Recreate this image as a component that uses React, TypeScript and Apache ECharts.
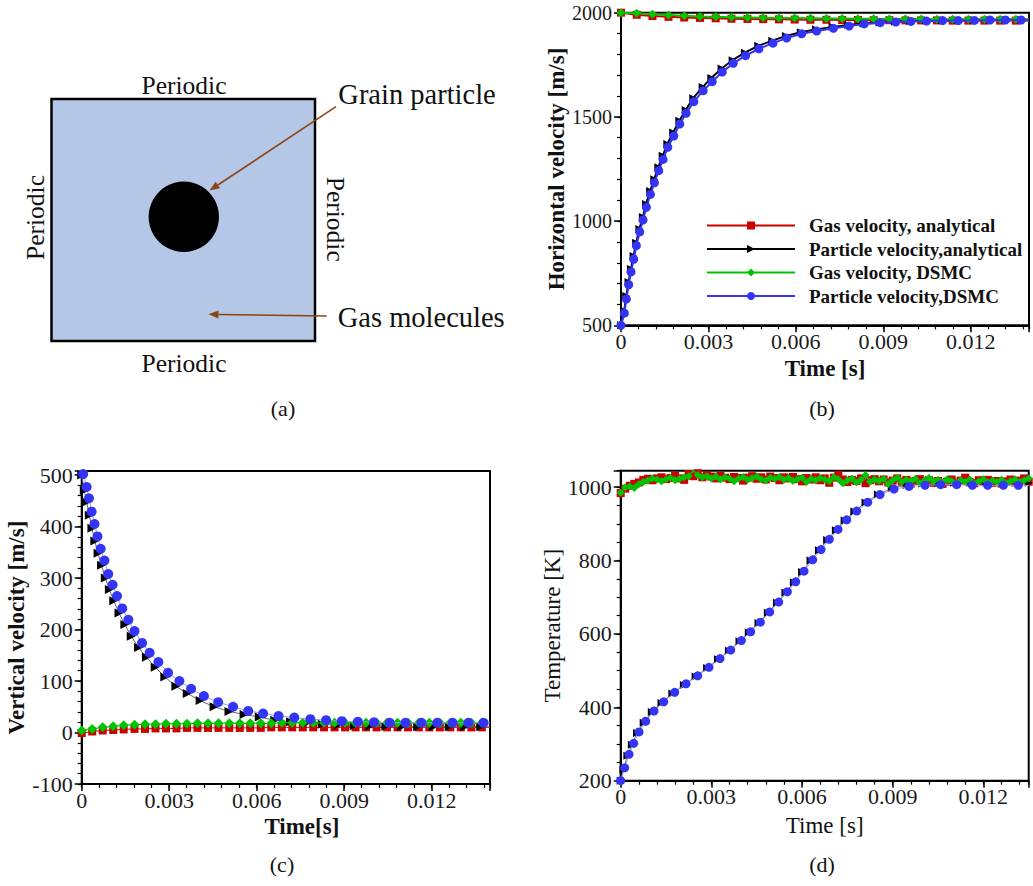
import React, { useEffect, useRef } from 'react';
import * as echarts from 'echarts';

const SERIF = 'Liberation Serif, Times New Roman, Times, serif';

const RED = '#cc0000';
const BLACK = '#000000';
const GREEN = '#00c400';
const BLUE = '#3434f6';
const BROWN = '#8b4513';
const BOX_FILL = '#b4c7e7';
const TRIANGLE = 'path://M0,0L10,5L0,10Z';

const LEGEND_NAMES = [
  'Gas velocity, analytical',
  'Particle velocity,analytical',
  'Gas velocity, DSMC',
  'Particle velocity,DSMC',
];

// ---- (b) horizontal velocity ----
const bGasTimes = [0, 0.00054, 0.00108, 0.00163, 0.00217, 0.00271, 0.00325, 0.00379, 0.00434, 0.00488, 0.00542, 0.00596, 0.0065, 0.00705, 0.00759, 0.00813, 0.00867, 0.00921, 0.00976, 0.0103, 0.01084, 0.01138, 0.01192, 0.01247, 0.01301, 0.01355, 0.014];
const bGasAnalytical = [2000, 1990, 1984, 1980, 1977, 1975, 1973, 1971, 1970, 1969, 1968, 1967, 1966, 1966, 1965, 1965, 1964, 1964, 1963, 1963, 1963, 1962, 1962, 1962, 1962, 1962, 1962];
const bGasDsmc = [2000, 1997, 1993, 1989, 1985, 1982, 1980, 1978, 1977, 1976, 1975, 1974, 1973, 1972, 1972, 1971, 1971, 1970, 1970, 1970, 1969, 1969, 1969, 1969, 1968, 1968, 1968];
const bParticleAnalyticalT = [0, 0.00011, 0.00018, 0.00026, 0.00034, 0.00043, 0.00052, 0.00063, 0.00075, 0.00086, 0.001, 0.00114, 0.00128, 0.00143, 0.00159, 0.00179, 0.002, 0.00222, 0.00248, 0.0028, 0.0031, 0.00345, 0.00383, 0.00425, 0.00471, 0.00519, 0.00566, 0.00617, 0.00669, 0.00726, 0.0078, 0.00832, 0.00887, 0.0094, 0.00992, 0.01046, 0.01101, 0.01155, 0.0121, 0.01264, 0.01317, 0.01371, 0.014];
const bParticleAnalyticalV = [500, 570, 640, 708, 770, 832, 896, 962, 1020, 1082, 1145, 1201, 1258, 1313, 1370, 1425, 1482, 1533, 1590, 1643, 1687, 1732, 1772, 1808, 1841, 1866, 1888, 1906, 1920, 1932, 1941, 1948, 1953, 1957, 1960, 1962, 1963, 1964, 1965, 1965, 1966, 1966, 1966];
const bParticleDsmcT = [0, 0.000115, 0.000183, 0.000264, 0.000344, 0.000436, 0.000527, 0.000642, 0.000756, 0.000871, 0.001009, 0.001146, 0.001295, 0.001444, 0.001605, 0.001811, 0.002017, 0.002235, 0.002499, 0.002819, 0.003129, 0.003473, 0.003851, 0.004275, 0.004733, 0.005215, 0.005685, 0.0062, 0.006716, 0.007289, 0.007828, 0.008344, 0.008894, 0.009432, 0.009948, 0.010487, 0.011037, 0.011576, 0.012126, 0.012664, 0.013192, 0.01373, 0.014];
const bParticleDsmcV = [500, 558, 626, 694, 756, 817, 882, 948, 1005, 1066, 1128, 1184, 1242, 1296, 1354, 1408, 1466, 1517, 1573, 1626, 1669, 1715, 1757, 1794, 1827, 1854, 1878, 1899, 1912, 1925, 1936, 1946, 1952, 1955, 1958, 1960, 1962, 1962, 1963, 1965, 1965, 1965, 1965];

// ---- (c) vertical velocity ----
const cGasTimes = [0, 0.00036, 0.00072, 0.00108, 0.00144, 0.00181, 0.00217, 0.00253, 0.00289, 0.00325, 0.00361, 0.00397, 0.00433, 0.00469, 0.00506, 0.00542, 0.00578, 0.00614, 0.0065, 0.00686, 0.00722, 0.00758, 0.00794, 0.00831, 0.00867, 0.00903, 0.00939, 0.00975, 0.01011, 0.01047, 0.01083, 0.01119, 0.01156, 0.01192, 0.01228, 0.01264, 0.013, 0.01336, 0.01372, 0.014];
const cGasAnalytical = [-1, 2, 4, 5, 6, 7, 7, 8, 8, 8, 9, 9, 9, 9, 9, 9, 9, 9, 10, 10, 10, 10, 10, 10, 10, 10, 10, 10, 10, 10, 10, 10, 10, 10, 10, 10, 10, 10, 10, 10];
const cGasDsmc = [4, 7, 10, 12, 14, 15, 16, 16, 17, 17, 17, 18, 18, 18, 18, 18, 18, 18, 18, 19, 19, 19, 19, 19, 19, 19, 19, 19, 19, 19, 19, 19, 19, 19, 19, 19, 19, 19, 19, 19];
const cParticleAnalyticalT = [0, 0.00009, 0.00017, 0.00026, 0.00035, 0.00045, 0.00056, 0.00068, 0.00081, 0.00095, 0.0011, 0.00128, 0.00148, 0.0017, 0.00195, 0.00222, 0.00252, 0.00285, 0.00323, 0.00362, 0.00406, 0.00454, 0.00505, 0.00557, 0.00609, 0.00662, 0.00716, 0.0077, 0.00825, 0.00879, 0.00934, 0.00988, 0.01043, 0.01097, 0.01152, 0.01206, 0.0126, 0.01314, 0.01368, 0.014];
const cParticleAnalyticalV = [500, 470, 448, 422, 397, 372, 348, 325, 300, 278, 256, 232, 210, 187, 165, 146, 127, 108, 90, 76, 62, 50, 41, 35, 30, 24, 21, 18, 16, 14, 13, 12, 12, 11, 11, 11, 11, 11, 11, 11];
const cParticleDsmcT = [0.00005, 0.00017, 0.00025, 0.00034, 0.00044, 0.00054, 0.00065, 0.00078, 0.00091, 0.00106, 0.00121, 0.00139, 0.0016, 0.00181, 0.00207, 0.00233, 0.00263, 0.00296, 0.00335, 0.00375, 0.00419, 0.00468, 0.00519, 0.00571, 0.00622, 0.00675, 0.00729, 0.00784, 0.00838, 0.00892, 0.00947, 0.01002, 0.01056, 0.0111, 0.01165, 0.01219, 0.01272, 0.01326, 0.01378, 0.014];
const cParticleDsmcV = [502, 477, 455, 429, 405, 381, 357, 334, 308, 287, 265, 241, 219, 197, 174, 155, 137, 116, 100, 85, 71, 59, 50, 42, 37, 32, 29, 26, 24, 22, 21, 20, 19, 19, 19, 19, 19, 19, 19, 19];

// ---- (d) temperature ----
const dGasTimes = [0, 0.00015, 0.0003, 0.00045, 0.0006, 0.00075, 0.0009, 0.00105, 0.0012, 0.00135, 0.0015, 0.00165, 0.0018, 0.00195, 0.0021, 0.00225, 0.0024, 0.00255, 0.0027, 0.00285, 0.003, 0.00315, 0.0033, 0.00345, 0.0036, 0.00375, 0.0039, 0.00405, 0.0042, 0.00435, 0.0045, 0.00465, 0.0048, 0.00495, 0.0051, 0.00525, 0.0054, 0.00555, 0.0057, 0.00585, 0.006, 0.00615, 0.0063, 0.00645, 0.0066, 0.00675, 0.0069, 0.00705, 0.0072, 0.00735, 0.0075, 0.00765, 0.0078, 0.00795, 0.0081, 0.00825, 0.0084, 0.00855, 0.0087, 0.00885, 0.009, 0.00915, 0.0093, 0.00945, 0.0096, 0.00975, 0.0099, 0.01005, 0.0102, 0.01035, 0.0105, 0.01065, 0.0108, 0.01095, 0.0111, 0.01125, 0.0114, 0.01155, 0.0117, 0.01185, 0.012, 0.01215, 0.0123, 0.01245, 0.0126, 0.01275, 0.0129, 0.01305, 0.0132, 0.01335, 0.0135];
const dGasAnalytical = [984, 996, 1004, 1009, 1013, 1020, 1023, 1019, 1024, 1027, 1022, 1025, 1031, 1024, 1020, 1036, 1030, 1038, 1027, 1033, 1029, 1024, 1031, 1026, 1022, 1028, 1025, 1018, 1026, 1030, 1023, 1027, 1021, 1029, 1025, 1019, 1027, 1024, 1028, 1022, 1016, 1025, 1021, 1027, 1019, 1024, 1012, 1026, 1033, 1021, 1014, 1020, 1017, 1024, 1011, 1019, 1022, 1016, 1021, 1013, 1018, 1024, 1015, 1020, 1010, 1017, 1022, 1014, 1019, 1012, 1017, 1009, 1015, 1021, 1013, 1018, 1026, 1014, 1011, 1019, 1015, 1020, 1012, 1017, 1010, 1016, 1021, 1013, 1018, 1024, 1015];
const dGasDsmc = [985, 1000, 1002, 998, 1008, 1014, 1018, 1024, 1021, 1016, 1022, 1026, 1019, 1023, 1027, 1030, 1046, 1033, 1027, 1030, 1024, 1029, 1021, 1027, 1024, 1016, 1023, 1028, 1020, 1025, 1029, 1022, 1018, 1026, 1023, 1028, 1020, 1025, 1017, 1022, 1026, 1014, 1023, 1019, 1025, 1021, 1016, 1027, 1022, 1011, 1018, 1024, 1013, 1020, 1033, 1015, 1021, 1017, 1023, 1009, 1019, 1026, 1014, 1020, 1016, 1023, 1011, 1018, 1025, 1016, 1020, 1013, 1022, 1017, 1012, 1019, 1015, 1021, 1010, 1016, 1022, 1013, 1018, 1014, 1020, 1011, 1017, 1021, 1014, 1019, 1024];
const dParticleAnalyticalT = [0, 0.00009, 0.00022, 0.00037, 0.00054, 0.00076, 0.00103, 0.00135, 0.00171, 0.00209, 0.00248, 0.00286, 0.00322, 0.00358, 0.00393, 0.00424, 0.00456, 0.00487, 0.00517, 0.00545, 0.00573, 0.006, 0.00628, 0.00656, 0.00683, 0.00712, 0.00741, 0.00773, 0.0081, 0.00851, 0.00897, 0.00946, 0.00998, 0.0105, 0.01103, 0.01157, 0.0121, 0.01262, 0.01315, 0.0135];
const dParticleAnalyticalV = [200, 230, 268, 298, 330, 358, 387, 412, 438, 461, 484, 507, 531, 554, 580, 604, 630, 658, 685, 713, 740, 769, 800, 828, 856, 883, 909, 934, 958, 980, 997, 1006, 1010, 1012, 1012, 1012, 1012, 1012, 1012, 1012];
const dParticleDsmcT = [0, 0.000132, 0.000276, 0.00043, 0.000607, 0.000827, 0.001103, 0.001423, 0.001787, 0.002162, 0.002547, 0.002922, 0.003287, 0.00364, 0.003993, 0.004301, 0.004621, 0.00493, 0.005228, 0.005515, 0.00579, 0.006066, 0.006353, 0.006629, 0.006904, 0.007191, 0.007478, 0.007809, 0.008173, 0.008581, 0.009044, 0.00954, 0.01007, 0.010588, 0.011118, 0.011636, 0.012143, 0.012662, 0.013158, 0.0135];
const dParticleDsmcV = [200, 235, 272, 302, 333, 362, 390, 415, 441, 464, 486, 509, 533, 556, 582, 606, 632, 660, 687, 715, 742, 771, 802, 830, 858, 885, 911, 935, 959, 980, 995, 1002, 1005, 1007, 1007, 1005, 1005, 1005, 1005, 1005];

type Point = [number, number] | { value: [number, number]; symbol: string };

// Pair time/value arrays; the closing point that only carries the line to the frame gets no marker.
function points(ts: number[], vs: number[], bareLast: boolean): Point[] {
  return ts.map((t, i) => {
    const p: [number, number] = [t, vs[i]];
    return bareLast && i === ts.length - 1 ? { value: p, symbol: 'none' } : p;
  });
}

function timeLabel(v: number): string {
  const k = Math.round(v / 0.003);
  if (Math.abs(v - k * 0.003) > 1e-9) return '';
  return k === 0 ? '0' : (k * 0.003).toFixed(3);
}

function stepLabel(step: number) {
  return (v: number) => {
    const k = Math.round(v / step);
    return Math.abs(v - k * step) > 1e-6 ? '' : String(k * step);
  };
}

interface PanelSpec {
  left: number;
  top: number;
  width: number;
  height: number;
  xMax: number;
  yMin: number;
  yMax: number;
  yStep: number;
  yMinor: number;
  yLabelSize: number;
  xName: string;
  yName: string;
  bold: boolean;
  xNameGap: number;
  yNameGap: number;
  xNamePad: number;
}

const panels: PanelSpec[] = [
  { left: 621, top: 12.7, width: 408, height: 312.6, xMax: 0.014, yMin: 500, yMax: 2000, yStep: 500, yMinor: 100, yLabelSize: 20, xName: 'Time [s]', yName: 'Horizontal velocity [m/s]', bold: true, xNameGap: 32, yNameGap: 50, xNamePad: 0 },
  { left: 81.7, top: 471, width: 408.3, height: 313, xMax: 0.014, yMin: -100, yMax: 508, yStep: 100, yMinor: 20, yLabelSize: 22, xName: 'Time[s]', yName: 'Vertical velocity [m/s]', bold: true, xNameGap: 31, yNameGap: 51, xNamePad: 32 },
  { left: 620.7, top: 470.7, width: 408, height: 310, xMax: 0.0135, yMin: 200, yMax: 1045, yStep: 200, yMinor: 50, yLabelSize: 22, xName: 'Time [s]', yName: 'Temperature [K]', bold: false, xNameGap: 33, yNameGap: 51, xNamePad: 0 },
];

function buildAxes() {
  const grid: any[] = [];
  const xAxis: any[] = [];
  const yAxis: any[] = [];
  panels.forEach((p, i) => {
    grid.push({
      left: p.left, top: p.top, width: p.width, height: p.height,
      show: true, borderColor: '#000', borderWidth: 2, backgroundColor: 'transparent',
    });
    const titleStyle = {
      fontFamily: SERIF, fontSize: 23, fontWeight: p.bold ? 'bold' : 'normal', color: '#111',
    };
    xAxis.push({
      type: 'value', gridIndex: i, min: 0, max: p.xMax, interval: 0.003, position: 'bottom',
      axisLine: { show: true, onZero: false, lineStyle: { color: '#000', width: 2 } },
      axisTick: { show: true, length: 7, lineStyle: { color: '#000', width: 1.5 } },
      axisLabel: { fontFamily: SERIF, fontSize: 22, color: '#1a1a1a', margin: 5, formatter: timeLabel },
      splitLine: { show: false },
      name: p.xName, nameLocation: 'middle', nameGap: p.xNameGap,
      nameTextStyle: { ...titleStyle, padding: [0, 0, 0, p.xNamePad] },
    });
    xAxis.push({
      type: 'value', gridIndex: i, min: 0, max: p.xMax, interval: 0.0006, position: 'bottom',
      axisLine: { show: false, onZero: false },
      axisTick: { show: true, length: 4, lineStyle: { color: '#000', width: 1.2 } },
      axisLabel: { show: false },
      splitLine: { show: false },
    });
    yAxis.push({
      type: 'value', gridIndex: i, min: p.yMin, max: p.yMax, interval: p.yStep, position: 'left',
      axisLine: { show: true, onZero: false, lineStyle: { color: '#000', width: 2 } },
      axisTick: { show: true, length: 7, lineStyle: { color: '#000', width: 1.5 } },
      axisLabel: { fontFamily: SERIF, fontSize: p.yLabelSize, color: '#1a1a1a', margin: 9, formatter: stepLabel(p.yStep) },
      splitLine: { show: false },
      name: p.yName, nameLocation: 'middle', nameGap: p.yNameGap, nameTextStyle: titleStyle,
    });
    yAxis.push({
      type: 'value', gridIndex: i, min: p.yMin, max: p.yMax, interval: p.yMinor, position: 'left',
      axisLine: { show: false, onZero: false },
      axisTick: { show: true, length: 4, lineStyle: { color: '#000', width: 1.2 } },
      axisLabel: { show: false },
      splitLine: { show: false },
    });
  });
  return { grid, xAxis, yAxis };
}

function line(
  name: string, panel: number, data: Point[], color: string, lineColor: string,
  lineWidth: number, symbol: string, symbolSize: number | number[], z: number,
) {
  return {
    type: 'line', name, xAxisIndex: panel * 2, yAxisIndex: panel * 2, data,
    symbol, symbolSize, showSymbol: true, showAllSymbol: true, z,
    itemStyle: { color, borderWidth: 0 },
    lineStyle: { color: lineColor, width: lineWidth },
    emphasis: { disabled: true },
  };
}

function arrow(x1: number, y1: number, x2: number, y2: number) {
  const dx = x2 - x1;
  const dy = y2 - y1;
  const len = Math.hypot(dx, dy);
  const ux = dx / len;
  const uy = dy / len;
  const headLen = 10;
  const headHalf = 4;
  const bx = x2 - ux * headLen;
  const by = y2 - uy * headLen;
  return [
    { type: 'line', shape: { x1, y1, x2: bx, y2: by }, style: { stroke: BROWN, lineWidth: 1.6 } },
    {
      type: 'polygon',
      shape: { points: [[x2, y2], [bx - uy * headHalf, by + ux * headHalf], [bx + uy * headHalf, by - ux * headHalf]] },
      style: { fill: BROWN },
    },
  ];
}

function label(text: string, x: number, y: number, size: number, align = 'center', rotation = 0) {
  return {
    type: 'text', x, y, rotation,
    style: { text, fontFamily: SERIF, fontSize: size, fill: '#111', align, verticalAlign: 'middle' },
  };
}

export default function App() {
  const ref = useRef<HTMLDivElement>(null);

  useEffect(() => {
    document.body.style.margin = '0';
    if (!ref.current) return;
    const chart = echarts.init(ref.current, undefined, { renderer: 'svg' });
    const { grid, xAxis, yAxis } = buildAxes();

    const series = [
      // (b)
      line(LEGEND_NAMES[0], 0, points(bGasTimes, bGasAnalytical, true), RED, RED, 2, 'rect', 8, 3),
      line(LEGEND_NAMES[1], 0, points(bParticleAnalyticalT, bParticleAnalyticalV, true), BLACK, BLACK, 2, TRIANGLE, 8, 4),
      line(LEGEND_NAMES[2], 0, points(bGasTimes, bGasDsmc, true), GREEN, GREEN, 2, 'diamond', 9, 5),
      line(LEGEND_NAMES[3], 0, points(bParticleDsmcT, bParticleDsmcV, true), BLUE, BLUE, 2, 'circle', 9, 6),
      // (c)
      line('Gas vertical velocity, analytical', 1, points(cGasTimes, cGasAnalytical, true), RED, RED, 1, 'rect', 8, 3),
      line('Particle vertical velocity, analytical', 1, points(cParticleAnalyticalT, cParticleAnalyticalV, true), BLACK, '#666', 1, TRIANGLE, 9, 4),
      line('Gas vertical velocity, DSMC', 1, points(cGasTimes, cGasDsmc, true), GREEN, GREEN, 1, 'diamond', 10, 5),
      line('Particle vertical velocity, DSMC', 1, points(cParticleDsmcT, cParticleDsmcV, true), BLUE, '#9a9af2', 1, 'circle', 10, 6),
      // (d)
      line('Gas temperature, analytical', 2, points(dGasTimes, dGasAnalytical, false), RED, RED, 1.5, 'rect', 8, 3),
      line('Particle temperature, analytical', 2, points(dParticleAnalyticalT, dParticleAnalyticalV, false), BLACK, '#777', 1, TRIANGLE, 8, 4),
      line('Gas temperature, DSMC', 2, points(dGasTimes, dGasDsmc, false), GREEN, GREEN, 1.5, 'diamond', 8, 5),
      line('Particle temperature, DSMC', 2, points(dParticleDsmcT, dParticleDsmcV, true), BLUE, '#a0a0f0', 1, 'circle', 9, 6),
    ];

    const graphic = [
      { type: 'rect', shape: { x: 51.5, y: 99, width: 263.5, height: 242 }, style: { fill: BOX_FILL, stroke: '#000', lineWidth: 2.5 } },
      { type: 'circle', shape: { cx: 183.8, cy: 216.8, r: 35.2 }, style: { fill: '#000' } },
      ...arrow(336, 106.7, 209.5, 190.5),
      ...arrow(326.7, 316, 208.5, 314.3),
      label('Periodic', 184, 85, 25.5),
      label('Periodic', 184, 363.3, 25.5),
      label('Periodic', 35, 217.5, 25.5, 'center', Math.PI / 2),
      label('Periodic', 335.4, 219.2, 25.5, 'center', -Math.PI / 2),
      label('Grain particle', 338.3, 94.7, 28.5, 'left'),
      label('Gas molecules', 337.7, 317.1, 28.5, 'left'),
      label('(a)', 283, 408, 22),
      label('(b)', 822, 408, 22),
      label('(c)', 282, 864, 22),
      label('(d)', 822, 864, 22),
    ];

    chart.setOption({
      animation: false,
      textStyle: { fontFamily: SERIF },
      grid, xAxis, yAxis, series, graphic,
      legend: {
        show: true, orient: 'vertical', left: 706, top: 216, padding: 0,
        itemWidth: 88, itemHeight: 10, itemGap: 4.5, selectedMode: false,
        data: LEGEND_NAMES,
        textStyle: { fontFamily: SERIF, fontSize: 19, fontWeight: 'bold', color: '#111', padding: [0, 0, 0, 9] },
      },
    });
    return () => chart.dispose();
  }, []);

  return <div ref={ref} style={{ width: 1033, height: 886 }} />;
}
